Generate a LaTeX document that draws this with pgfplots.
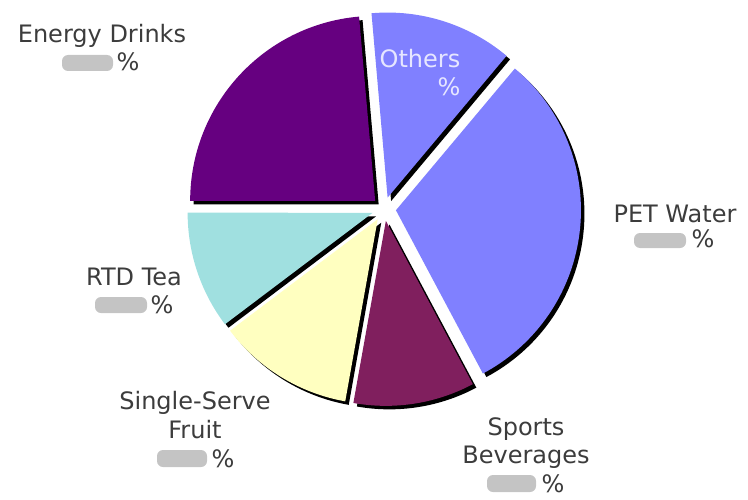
\documentclass[border=0pt]{standalone}
\usepackage{pgfplots}
\pgfplotsset{compat=1.18}
\usepackage{pgfplotstable}
\usepackage{fontspec}
\setmainfont{DejaVu Sans}
\definecolor{cOthers}{HTML}{8080FF}
\definecolor{cPET}{HTML}{8080FF}
\definecolor{cSports}{HTML}{801F5E}
\definecolor{cFruit}{HTML}{FFFFC0}
\definecolor{cRTD}{HTML}{A0E0E0}
\definecolor{cEnergy}{HTML}{660080}
\definecolor{txt}{HTML}{3C3C3C}
\definecolor{othtxt}{HTML}{E6E6FF}
\definecolor{blurbox}{HTML}{C4C4C4}

% share of each slice in percent, clockwise from the top (95 degrees)
\pgfplotstableread{
share color
12.5 cOthers
31.1 cPET
10.6 cSports
11.9 cFruit
10.3 cRTD
23.6 cEnergy
}\piedata

\begin{document}
\begin{tikzpicture}
\begin{axis}[hide axis, x=0.5pt, y=0.5pt, xmin=0, xmax=748, ymin=0, ymax=499,
  clip=false]
\path (rel axis cs:0,0) rectangle (rel axis cs:1,1);
\def\cur{95}
\pgfplotsforeachungrouped \i in {0,...,5}{%
  \pgfplotstablegetelem{\i}{share}\of\piedata \let\p\pgfplotsretval
  \pgfplotstablegetelem{\i}{color}\of\piedata \let\c\pgfplotsretval
  \pgfmathsetmacro{\nxt}{\cur-3.6*\p}%
  \pgfmathsetmacro{\md}{(\cur+\nxt)/2}%
  \pgfmathsetmacro{\px}{384+12*cos(\md)}%
  \pgfmathsetmacro{\py}{290+12*sin(\md)}%
  \pgfmathsetmacro{\sx}{\px+3.5}%
  \pgfmathsetmacro{\sy}{\py-3.5}%
  \edef\temp{%
    \noexpand\fill[black] (axis cs:\sx,\sy) -- ++(\cur:92.5pt) arc[start angle=\cur, end angle=\nxt, radius=92.5pt] -- cycle;
    \noexpand\fill[\c] (axis cs:\px,\py) -- ++(\cur:92.5pt) arc[start angle=\cur, end angle=\nxt, radius=92.5pt] -- cycle;
  }\temp
  \global\let\cur\nxt
}
% labels
\tikzset{lab/.style={anchor=base, font=\fontsize{12}{14}\selectfont, text=txt, inner sep=0pt}}
\node[lab] at (axis cs:102,456) {Energy Drinks};
\fill[blurbox, rounded corners=3pt] (axis cs:62,428) rectangle (axis cs:113,444);
\node[lab] at (axis cs:128,428) {\%};

\node[lab, text=othtxt] at (axis cs:420,431) {Others};
\node[lab, text=othtxt] at (axis cs:449,403) {\%};

\node[lab] at (axis cs:675,277) {PET Water};
\fill[blurbox, rounded corners=3pt] (axis cs:634,251) rectangle (axis cs:686,266);
\node[lab] at (axis cs:703,252) {\%};

\node[lab] at (axis cs:134,214) {RTD Tea};
\fill[blurbox, rounded corners=3pt] (axis cs:95,186) rectangle (axis cs:147,202);
\node[lab] at (axis cs:162,186) {\%};

\node[lab] at (axis cs:195,90) {Single-Serve};
\node[lab] at (axis cs:195,61) {Fruit};
\fill[blurbox, rounded corners=3pt] (axis cs:157,32) rectangle (axis cs:207,49);
\node[lab] at (axis cs:223,32) {\%};

\node[lab] at (axis cs:526,64) {Sports};
\node[lab] at (axis cs:526,36) {Beverages};
\fill[blurbox, rounded corners=3pt] (axis cs:487,7) rectangle (axis cs:536,24);
\node[lab] at (axis cs:553,7) {\%};
\end{axis}
\end{tikzpicture}
\end{document}
